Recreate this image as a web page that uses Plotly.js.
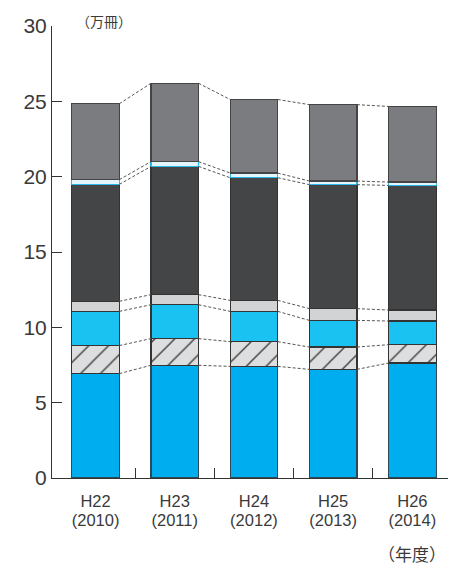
<!DOCTYPE html>
<html>
<head>
<meta charset="utf-8">
<script src="https://cdn.plot.ly/plotly-3.0.1.min.js"></script>
<style>html,body{margin:0;padding:0;background:#fff;}#chart{width:460px;height:565px;}</style>
</head>
<body>
<div id="chart"></div>
<script>
// Category labels
const eraLabels = ['H22', 'H23', 'H24', 'H25', 'H26'];
const yearLabels = ['2010', '2011', '2012', '2013', '2014'];
const yTicks = [0, 5, 10, 15, 20, 25, 30];

// Stacked segment values (万冊), bottom to top
const seg1 = [6.93, 7.48, 7.41, 7.21, 7.63];   // blue
const seg2 = [1.86, 1.77, 1.64, 1.48, 1.22];   // hatched
const seg3 = [2.27, 2.25, 2.01, 1.77, 1.57];   // light blue
const seg4 = [0.67, 0.67, 0.73, 0.78, 0.73];   // light grey
const seg5 = [7.76, 8.51, 8.14, 8.23, 8.27];   // dark grey
const seg6 = [0.31, 0.32, 0.31, 0.24, 0.22];   // pale band
const seg7 = [5.04, 5.20, 4.88, 5.07, 5.02];   // mid grey top

const yearText = yearLabels.map(y => '(' + y + ')');
const segments = [seg1, seg2, seg3, seg4, seg5, seg6, seg7];

const styles = [
  {color: '#00AEEF', line: '#2a4a5a'},
  {color: '#DDDEDF', line: '#333333', pattern: true},
  {color: '#1AC2F2', line: '#333333'},
  {color: '#D2D3D5', line: '#333333'},
  {color: '#444547', line: '#333333'},
  {color: '#E4F6FD', line: '#2BB5E8'},
  {color: '#7B7C80', line: '#444444'}
];
const BW = 0.6;
const FONT = '"Liberation Sans", Arial, sans-serif';
const JFONT = '"Noto Sans CJK JP", sans-serif';

const traces = segments.map((vals, k) => {
  const st = styles[k];
  const marker = {color: st.color, line: {color: st.line, width: 1.2}};
  if (st.pattern) {
    marker.pattern = {shape: '/', bgcolor: '#DDDEDF', fgcolor: '#333333', size: 14, solidity: 0.09, fillmode: 'replace'};
  }
  return {type: 'bar', x: eraLabels, y: vals, name: 'seg' + (k + 1), width: BW,
          marker: marker, hoverinfo: 'skip', showlegend: false};
});

// Dashed connector lines at each cumulative level
const cum = [];
let running = seg1.map(() => 0);
segments.forEach(vals => { running = running.map((r, i) => r + vals[i]); cum.push(running.slice()); });
const cx = [], cy = [];
cum.forEach(level => {
  for (let i = 0; i < level.length - 1; i++) {
    cx.push(i + BW / 2, i + 1 - BW / 2, null);
    cy.push(level[i], level[i + 1], null);
  }
});
traces.push({type: 'scatter', mode: 'lines', x: cx, y: cy, xaxis: 'x2', yaxis: 'y',
  line: {color: '#555555', width: 1, dash: '3px,2px'}, hoverinfo: 'skip', showlegend: false});
// carrier for the year label axis
traces.push({type: 'scatter', mode: 'markers', x: yearText, y: [null, null, null, null, null],
  xaxis: 'x3', yaxis: 'y', hoverinfo: 'skip', showlegend: false, marker: {opacity: 0}});

const layout = {
  width: 460, height: 565,
  margin: {l: 52, r: 12, t: 25.5, b: 87.3},
  paper_bgcolor: '#fff', plot_bgcolor: '#fff',
  barmode: 'stack',
  font: {family: FONT, color: '#3a3a3a'},
  xaxis: {type: 'category', range: [-0.55, 4.45], showline: true, linecolor: '#333', linewidth: 1,
          ticks: '', showgrid: false, zeroline: false, ticklabelstandoff: 8,
          tickfont: {family: FONT, size: 16.5, color: '#3a3a3a'}},
  xaxis2: {overlaying: 'x', anchor: 'y', side: 'bottom', type: 'linear', range: [-0.55, 4.45],
           tickmode: 'array', tickvals: [0.5, 1.5, 2.5, 3.5, 4.449], ticks: 'inside', ticklen: 10,
           tickcolor: '#333', tickwidth: 1, showticklabels: false, showgrid: false, zeroline: false, showline: false},
  xaxis3: {overlaying: 'x', anchor: 'y', side: 'bottom', type: 'category', range: [-0.55, 4.45],
           ticks: '', showgrid: false, zeroline: false, showline: false, ticklabelstandoff: 30,
           tickfont: {family: FONT, size: 16.5, color: '#3a3a3a'}},
  yaxis: {range: [0, 30], tickmode: 'array', tickvals: yTicks, ticktext: yTicks.map(String),
          ticks: 'inside', ticklen: 10, tickcolor: '#333', showline: true, linecolor: '#333', linewidth: 1,
          showgrid: false, zeroline: false,
          tickfont: {family: FONT, size: 21, color: '#3a3a3a'}},
  annotations: [
    {text: '（万冊）', xref: 'paper', yref: 'paper', x: 0.055, y: 1.012, xanchor: 'left', yanchor: 'middle',
     showarrow: false, font: {family: JFONT, size: 14, color: '#3a3a3a'}},
    {text: '（年度）', xref: 'paper', yref: 'paper', x: 1.0, y: -0.1665, xanchor: 'right', yanchor: 'middle',
     showarrow: false, font: {family: JFONT, size: 17, color: '#3a3a3a'}}
  ]
};

Plotly.newPlot('chart', traces, layout, {displayModeBar: false, staticPlot: true});
</script>
</body>
</html>
